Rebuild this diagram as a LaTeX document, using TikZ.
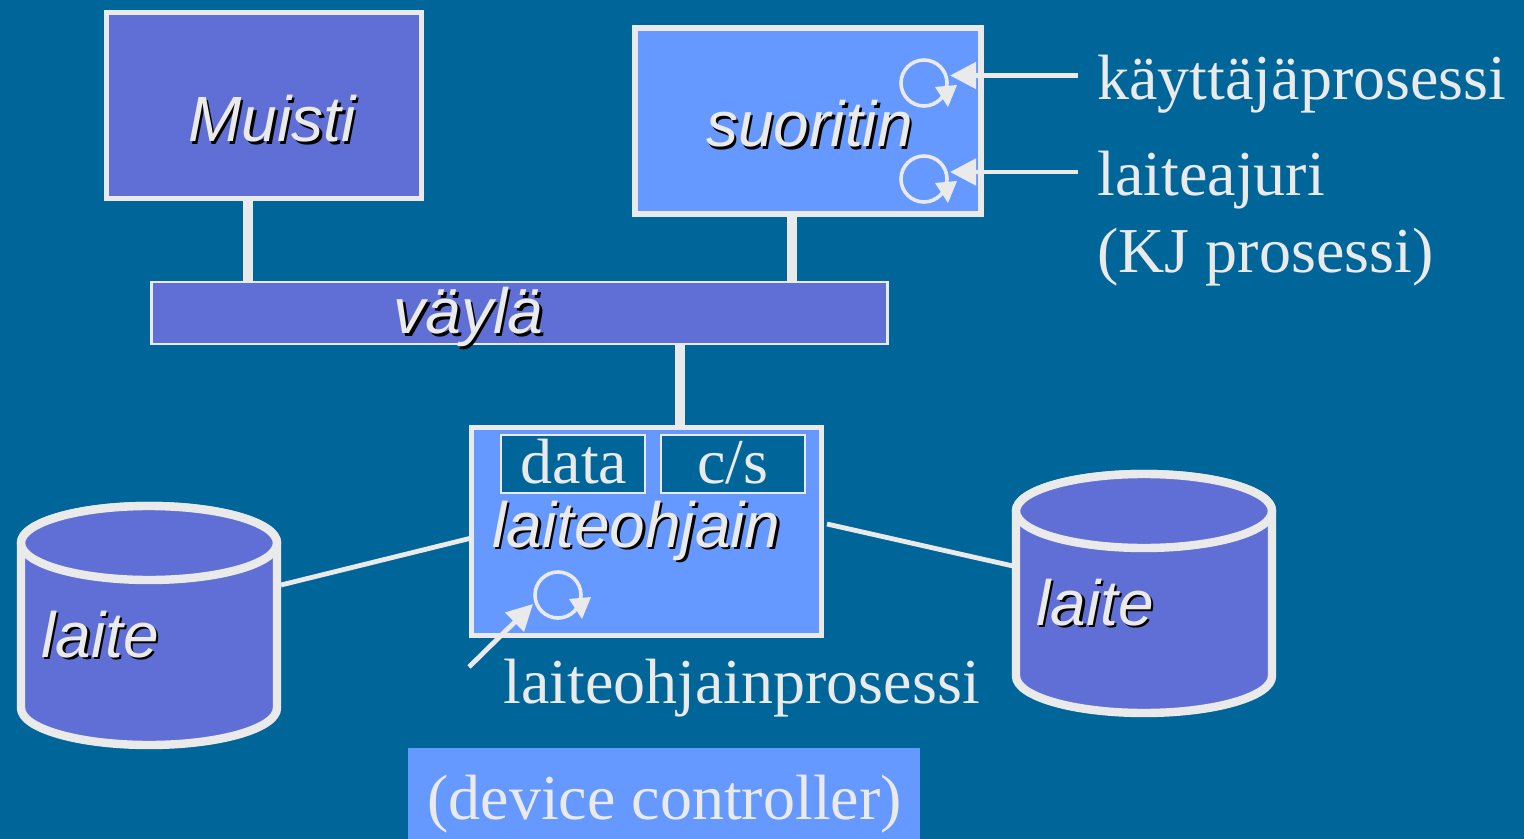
\documentclass[tikz,border=0pt]{standalone}
\usepackage{fontspec}
\setmainfont{Liberation Serif}
\setsansfont{Liberation Sans}
\usetikzlibrary{arrows.meta}
\definecolor{bgblue}{HTML}{006699}
\definecolor{darkbox}{HTML}{5F6FD6}
\definecolor{lightbox}{HTML}{6699FF}
\definecolor{linegray}{HTML}{EAEAEA}
\tikzset{
  box/.style={draw=linegray,line width=2.6pt,outer sep=0pt,inner sep=0pt},
  regbox/.style={draw=linegray,line width=1pt,fill=bgblue,outer sep=0pt,minimum width=72pt,minimum height=29pt,inner sep=0pt},
  txt/.style={text=linegray,font=\fontsize{32}{36}\selectfont,anchor=base west,inner sep=0pt},
  slanted/.style={font=\sffamily\itshape\fontsize{32}{36}\selectfont,anchor=base west,inner sep=0pt},
  bus/.style={draw=linegray,line width=5pt},
  wire/.style={draw=linegray,line width=2.4pt},
  ptr/.style={draw=linegray,line width=2.4pt,-{Triangle[length=13pt,width=13pt]}},
  loopring/.style={circle,draw=linegray,line width=1.8pt,minimum size=23pt,inner sep=0pt,outer sep=0pt},
  cyl/.style={draw=linegray,line width=4.2pt,fill=darkbox,line join=round}
}
\newcommand{\shadowlabel}[3]{
  \node[slanted,text=black,xshift=1.25pt,yshift=-1.25pt] (#1s) at (#2) {#3};
  \node[slanted,text=linegray] (#1) at (#2) {#3};
}
\begin{document}
\begin{tikzpicture}[x=.5pt,y=-.5pt]
  \fill[bgblue] (0,0) rectangle (1524,839);
  \useasboundingbox (0,0) rectangle (1524,839);
  % boxes
  \node[box,fill=darkbox,minimum width=157.5pt,minimum height=93pt] (muisti) at (264,105.5) {};
  \node[box,fill=lightbox,minimum width=173pt,minimum height=93pt] (suoritin) at (808,121) {};
  \node[box,fill=darkbox,line width=1.2pt,minimum width=368pt,minimum height=31pt] (vayla) at (519.5,313) {};
  \node[box,fill=lightbox,minimum width=175pt,minimum height=104pt] (ohjain) at (646.5,531.5) {};
  \node[regbox] (data) at (573,464) {};
  \node[regbox] (cs) at (733,464) {};
  \node[fill=lightbox,minimum width=256pt,minimum height=45.5pt,inner sep=0pt,outer sep=0pt] (devctrl) at (664,793.5) {};
  % bus lines
  \draw[bus] (muisti.south -| 248,0) -- (vayla.north -| 248,0);
  \draw[bus] (suoritin.south -| 792,0) -- (vayla.north -| 792,0);
  \draw[bus] (vayla.south -| 680,0) -- (ohjain.north -| 680,0);
  % devices
  \foreach \nm/\cx/\cy in {laitea/149/543,laiteb/1144/511}{
    \draw[cyl] (\cx-128,\cy) arc[start angle=180,end angle=360,x radius=128,y radius=37]
      -- (\cx+128,\cy+165) arc[start angle=0,end angle=180,x radius=128,y radius=37] -- cycle;
    \draw[cyl] (\cx,\cy) ellipse[x radius=128,y radius=37];
  }
  \coordinate (laitea-e) at (281,585);
  \coordinate (laiteb-w) at (1013,566);
  \draw[wire] (laitea-e) -- (ohjain.west |- 0,538);
  \draw[wire] (laiteb-w) -- (827,524);
  % processes
  \foreach \nm/\cx/\cy in {loopa/924/83,loopb/924/179,loopc/558/595}{
    \node[loopring] (\nm) at (\cx,\cy) {};
    \fill[linegray] (\cx+11,\cy+4) -- (\cx+33,\cy+2) -- (\cx+24,\cy+24) -- cycle;
  }
  \coordinate (kproc) at (1078,75.5);
  \coordinate (ajuri) at (1078,172);
  \coordinate (oproc) at (469,667);
  \coordinate (oproc-tip) at (533,604);
  \draw[ptr] (kproc) -- (kproc -| 950,0);
  \draw[ptr] (ajuri) -- (ajuri -| 950,0);
  \draw[ptr] (oproc) -- (oproc-tip);
  % labels
  \shadowlabel{lmuisti}{188,142}{Muisti}
  \shadowlabel{lsuoritin}{706,147}{suoritin}
  \shadowlabel{lvayla}{393.5,334}{väylä}
  \shadowlabel{lohjain}{492,547}{laiteohjain}
  \shadowlabel{llaitea}{41,657}{laite}
  \shadowlabel{llaiteb}{1036,625}{laite}
  \node[txt,anchor=base] (tdata) at (574,483) {data};
  \node[txt,anchor=base] (tcs) at (733,483) {c/s};
  \node[txt] (tkproc) at (1097,100) {käyttäjäprosessi};
  \node[txt] (tajuri) at (1097,196) {laiteajuri};
  \node[txt] (tkj) at (1097,273) {(KJ prosessi)};
  \node[txt] (toproc) at (503,703) {laiteohjainprosessi};
  \node[txt] (tdev) at (427,819.5) {(device controller)};
\end{tikzpicture}
\end{document}
